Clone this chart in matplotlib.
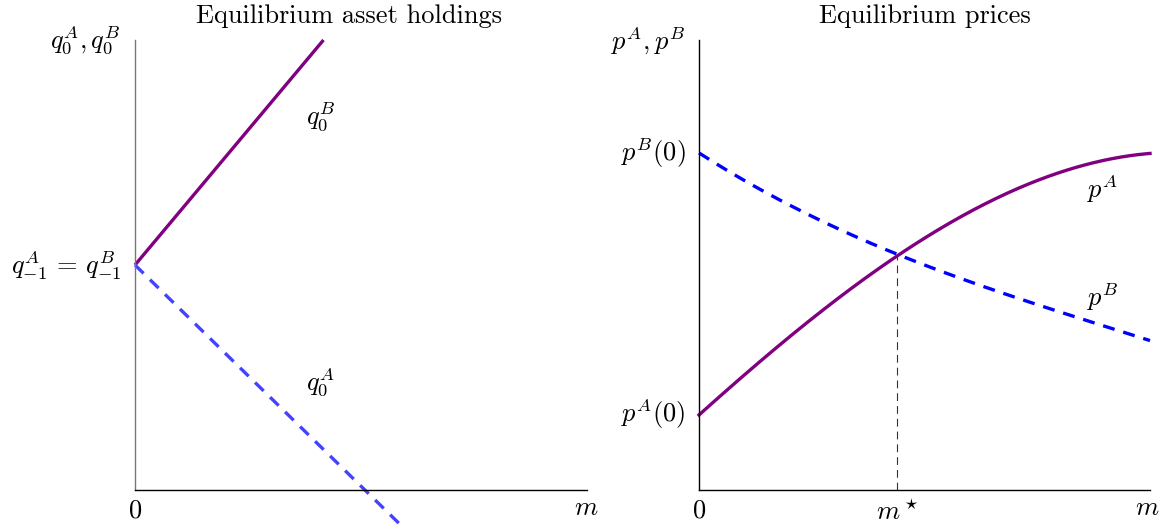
import numpy as np
import matplotlib
matplotlib.use("Agg")
import matplotlib.pyplot as plt

plt.rcParams['mathtext.fontset'] = 'cm'
plt.rcParams['font.family'] = 'serif'
plt.rcParams['font.serif'] = ['cmr10', 'DejaVu Serif']
plt.rcParams['axes.unicode_minus'] = False

# Left panel: equilibrium asset holdings
m_qB = [0.0, 0.417]
qB = [0.5, 1.0]
m_qA = [0.0, 0.588]
qA = [0.5, -0.078]

# Right panel: equilibrium prices
m_pA = [0.0, 0.129, 0.275, 0.439, 0.55, 0.645, 0.772, 0.882, 1.0]
pA = [0.169, 0.276, 0.40, 0.522, 0.593, 0.64, 0.693, 0.729, 0.749]
m_pB = [0.0, 0.202, 0.439, 0.55, 0.696, 0.845, 1.0]
pB = [0.749, 0.633, 0.522, 0.482, 0.433, 0.378, 0.333]
m_star = 0.439
p_star = 0.522

PURPLE = '#800080'
W, H = 1167, 529
fig = plt.figure(figsize=(W / 100, H / 100), dpi=100)

def px_axes(x0, x1, ytop, ybot):
    return fig.add_axes([x0 / W, 1 - ybot / H, (x1 - x0) / W, (ybot - ytop) / H])

axL = px_axes(135, 587, 40, 490)
axR = px_axes(699, 1150, 40, 490)

for ax in (axL, axR):
    ax.set_xlim(0, 1)
    ax.set_ylim(0, 1)
    ax.spines['top'].set_visible(False)
    ax.spines['right'].set_visible(False)
    ax.set_xticks([])
    ax.set_yticks([])
    ax.patch.set_alpha(0)
    ax.spines['bottom'].set_linewidth(1.0)
    ax.spines['left'].set_linewidth(1.0)

axL.spines['left'].set_color('#777777')

FS = 19

def smooth(xs, ys, deg=3):
    c = np.polyfit(xs, ys, deg)
    xx = np.linspace(xs[0], xs[-1], 200)
    return xx, np.polyval(c, xx)

# Left panel
axL.plot(m_qB, qB, color=PURPLE, lw=2.4, solid_capstyle='butt', clip_on=False)
axL.plot(m_qA, qA, color='#4343ff', lw=2.4, dashes=(3.6, 2.7), clip_on=False)
axL.text(0.41, 0.83, r'$q_0^B$', fontsize=FS, ha='center', va='center')
axL.text(0.41, 0.24, r'$q_0^A$', fontsize=FS, ha='center', va='center')
axL.text(-0.033, 1.0, r'$q_0^A, q_0^B$', fontsize=FS, ha='right', va='center')
axL.text(-0.03, 0.5, r'$q_{-1}^A\,=\,q_{-1}^B$', fontsize=FS, ha='right', va='center')
axL.text(0.0, -0.045, r'$0$', fontsize=FS, ha='center', va='center')
axL.text(0.998, -0.04, r'$m$', fontsize=FS, ha='center', va='center')

# Right panel
xa, ya = smooth(m_pA, pA)
xb, yb = smooth(m_pB, pB)
axR.plot(xa, ya, color=PURPLE, lw=2.4, clip_on=False)
axR.plot(xb, yb, color='#0000ff', lw=2.4, dashes=(3.6, 2.7), clip_on=False)
axR.plot([m_star, m_star], [0, p_star], color='#333333', lw=0.8, dashes=(7, 4.5))
axR.text(0.895, 0.67, r'$p^A$', fontsize=FS, ha='center', va='center')
axR.text(0.895, 0.43, r'$p^B$', fontsize=FS, ha='center', va='center')
axR.text(-0.03, 1.0, r'$p^A, p^B$', fontsize=FS, ha='right', va='center')
axR.text(-0.03, 0.749, r'$p^B(0)$', fontsize=FS, ha='right', va='center')
axR.text(-0.03, 0.169, r'$p^A(0)$', fontsize=FS, ha='right', va='center')
axR.text(0.0, -0.045, r'$0$', fontsize=FS, ha='center', va='center')
axR.text(m_star, -0.05, r'$m^\star$', fontsize=FS, ha='center', va='center')
axR.text(0.995, -0.04, r'$m$', fontsize=FS, ha='center', va='center')

fig.text(349 / W, 1 - 16 / H, 'Equilibrium asset holdings', fontsize=FS, ha='center', va='center')
fig.text(925 / W, 1 - 16 / H, 'Equilibrium prices', fontsize=FS, ha='center', va='center')

fig.savefig('out.png', dpi=100)
